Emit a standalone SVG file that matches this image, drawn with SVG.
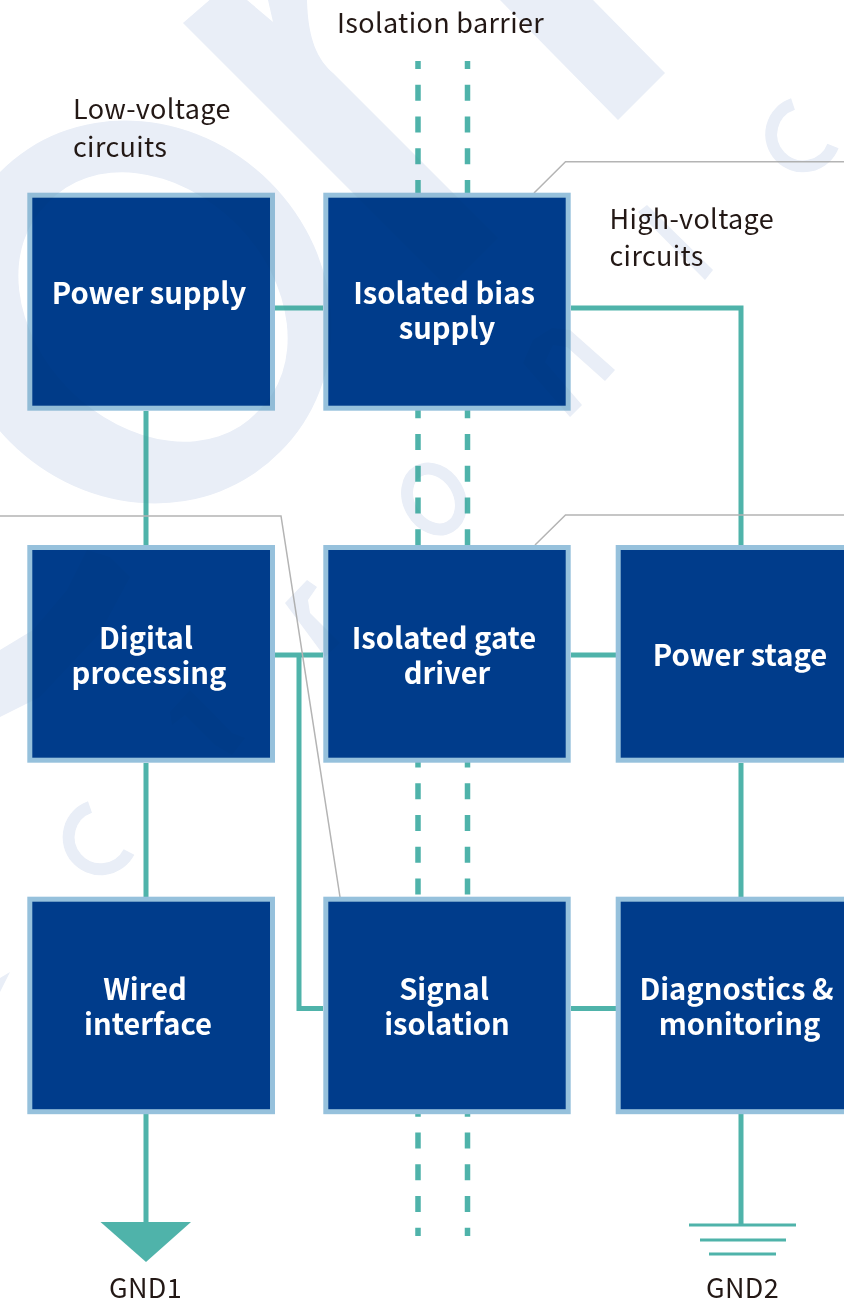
<svg xmlns="http://www.w3.org/2000/svg" width="844" height="1304" viewBox="0 0 844 1304">
<style>
text{font-family:"Noto Sans CJK JP","Noto Sans",sans-serif}
.box{fill:#003c8b;stroke:#96c1dc;stroke-width:5}
.t{font-size:29.2px;font-weight:700;fill:#fff;text-anchor:middle}
.l{font-size:27px;font-weight:400;fill:#231815;letter-spacing:.35px}
.g{text-anchor:middle}
.w{fill:none;stroke:#4fb3aa;stroke-width:5}
.d{fill:none;stroke:#4fb3aa;stroke-width:5.5;stroke-dasharray:16 15.75;stroke-dashoffset:8}
.c{fill:none;stroke:#b4b4b4;stroke-width:1.5}
.m{fill:currentColor}
.ms{fill:none;stroke:currentColor;stroke-width:12}
</style>
<defs>
<g id="wm">
<path class="m" d="M183 23L213 -3L247 0L273 22L268 0L307 0C308 40 318 60 333 73L498 238L448 288Z"/>
<path class="m" d="M500 0H593L665 73L618 120Z"/>
<path class="m" fill-rule="evenodd" d="M0 172A198 182 45 1 1 280 452A198 182 45 1 1 0 172ZM48.4 202.4A148 114 45 1 0 257.6 411.6A148 114 45 1 0 48.4 202.4Z"/>
<path class="m" d="M0 650L33 630L67 590L87 550L110 557L130 577L100 633L40 697L0 717Z"/>
<path class="m" d="M285 603L307 580L317 587L308 600L310 613L340 643L325 657Z"/>
<path class="m" d="M647 205L713 270L705 280L638 212Z"/>
<path class="m" d="M523 363L533 340L552 328L570 330L615 370L605 381L567 347L553 345L545 362L582 405L570 417Z"/>
<path class="m" d="M0 978L10 972L0 992Z"/>
<path class="m" d="M170 712L190 690L205 705L232 733L245 738L232 755L215 745L185 715L172 725Z"/>
<path class="ms" d="M90 807A32 32 0 1 0 129 852"/>
<path class="ms" d="M793 104A32 32 0 1 0 833 146"/>
<ellipse class="ms" cx="434" cy="499" rx="32" ry="25" transform="rotate(60 434 499)"/>
</g>
</defs>
<rect width="844" height="1304" fill="#fff"/>
<use href="#wm" style="color:#f0f4fc"/>
<g id="connectors">
<path class="d" d="M418 61V1236M467.5 61V1236"/>
<path class="w" d="M146 411V546M146 763V897M146 1114V1225M275 308H323M571 308H741V546M741 763V897M741 1114V1225M275 655H323M571 655H616M299 655V1008.5H323M571 1008.5H616"/>
<path d="M100.5 1222H191L146 1262Z" fill="#4fb3aa"/>
<path class="w" style="stroke-width:3" d="M689 1225H796M700 1240H786M709 1254H776"/>
<path class="c" d="M534 193L565.5 161.7H844M535 545L565.5 515H844M0 516H281L340 897"/>
</g>
<g id="power-supply"><rect class="box" x="29.8" y="195.2" width="242.7" height="213"/><text class="t" x="149" y="304">Power supply</text></g>
<g id="isolated-bias-supply"><rect class="box" x="325.8" y="195.2" width="242.4" height="213"/><text class="t"><tspan x="444" y="304">Isolated bias</tspan><tspan x="447" y="339">supply</tspan></text></g>
<g id="digital-processing"><rect class="box" x="29.8" y="547.5" width="242.7" height="212.7"/><text class="t"><tspan x="146" y="649">Digital</tspan><tspan x="149" y="684">processing</tspan></text></g>
<g id="isolated-gate-driver"><rect class="box" x="325.8" y="547.5" width="242.4" height="212.7"/><text class="t"><tspan x="444" y="649">Isolated gate</tspan><tspan x="447" y="684">driver</tspan></text></g>
<g id="power-stage"><rect class="box" x="618.2" y="547.5" width="250" height="212.7"/><text class="t" x="740" y="666">Power stage</text></g>
<g id="wired-interface"><rect class="box" x="29.8" y="899.2" width="242.7" height="212.5"/><text class="t"><tspan x="145" y="1000">Wired</tspan><tspan x="148" y="1035">interface</tspan></text></g>
<g id="signal-isolation"><rect class="box" x="325.8" y="899.2" width="242.4" height="212.5"/><text class="t"><tspan x="444" y="1000">Signal</tspan><tspan x="447" y="1035">isolation</tspan></text></g>
<g id="diagnostics-monitoring"><rect class="box" x="618.2" y="899.2" width="250" height="212.5"/><text class="t"><tspan x="736.5" y="1000">Diagnostics &amp;</tspan><tspan x="739.5" y="1035">monitoring</tspan></text></g>
<g id="labels">
<text class="l" x="337" y="32.5">Isolation barrier</text>
<text class="l"><tspan x="73" y="119">Low-voltage</tspan><tspan x="73" y="157">circuits</tspan></text>
<text class="l"><tspan x="609.5" y="229">High-voltage</tspan><tspan x="609.5" y="266">circuits</tspan></text>
<text class="l g" x="145.5" y="1298">GND1</text><text class="l g" x="742.5" y="1298">GND2</text>
</g>
<use id="watermark-tint" href="#wm" style="color:#f8f9fa;mix-blend-mode:multiply"/>
</svg>
